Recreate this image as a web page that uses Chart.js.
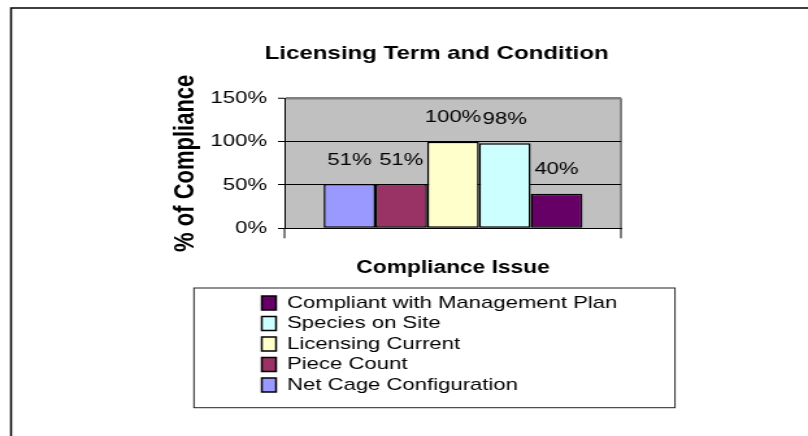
<!DOCTYPE html>
<html>
<head>
<meta charset="utf-8">
<script src="https://cdn.jsdelivr.net/npm/chart.js@4.4.1/dist/chart.umd.min.js"></script>
<style>
  html, body { margin: 0; padding: 0; background: #fff; }
  #chart { display: block; }
</style>
</head>
<body>
<!-- the source picture is stretched sideways, so draw narrow and widen with css -->
<canvas id="chart" width="622" height="436" style="width:808px;height:436px"></canvas>
<script>
const categories = [''];
const seriesNames = [
    'Net Cage Configuration',
    'Piece Count',
    'Licensing Current',
    'Species on Site',
    'Compliant with Management Plan'
];
const seriesValues = [51, 51, 100, 98, 40];
const yTickValues = [0, 50, 100, 150];

const seriesColors = ['#9999ff', '#993366', '#ffffcc', '#ccffff', '#660066'];

Chart.defaults.font.family = '"Liberation Sans", Arial, sans-serif';
Chart.defaults.color = '#000';

// grey plot area + the frame (only top and left edges show in the picture)
const plotBackground = {
    id: 'plotBackground',
    beforeDraw(chart) {
        const { ctx, chartArea: a } = chart;
        ctx.save();
        ctx.fillStyle = '#c0c0c0';
        ctx.fillRect(a.left, a.top, a.right - a.left, a.bottom - a.top);
        ctx.strokeStyle = '#000';
        ctx.lineWidth = 1.5;
        ctx.beginPath();
        ctx.moveTo(8.5, chart.height);
        ctx.lineTo(8.5, 8);
        ctx.lineTo(chart.width, 8);
        ctx.stroke();
        ctx.restore();
    }
};

// value labels above each bar
const valueLabels = {
    id: 'valueLabels',
    afterDatasetsDraw(chart) {
        const ctx = chart.ctx;
        ctx.save();
        ctx.font = '17px "Liberation Sans", Arial, sans-serif';
        ctx.fillStyle = '#000';
        ctx.textAlign = 'center';
        ctx.textBaseline = 'alphabetic';
        chart.data.datasets.forEach((ds, i) => {
            chart.getDatasetMeta(i).data.forEach((bar, j) => {
                ctx.fillText(ds.data[j] + '%', bar.x, bar.y - 19.5);
            });
        });
        ctx.restore();
    }
};

// bottom legend, but one entry per line in a framed box
const legendColumn = {
    id: 'legendColumn',
    beforeInit(chart) {
        const legend = chart.legend;
        const fit = legend.fit;
        legend.fit = function() {
            const full = this.maxWidth;
            this.maxWidth = 1;
            fit.call(this);
            this.maxWidth = full;
        };
        const draw = legend._draw;
        legend._draw = function() {
            const left = this.left, right = this.right;
            this.left = 198;
            this.right = 260;
            draw.call(this);
            this.left = left;
            this.right = right;
        };
    },
    afterDraw(chart) {
        const ctx = chart.ctx;
        const top = chart.legend.top;
        ctx.save();
        ctx.strokeStyle = '#222';
        ctx.lineWidth = 1;
        ctx.strokeRect(149.3, top - 3, 370.3, 119.7);
        ctx.restore();
    }
};

new Chart(document.getElementById('chart'), {
    type: 'bar',
    data: {
        labels: categories,
        datasets: seriesNames.map((name, i) => ({
            label: name,
            data: [seriesValues[i]],
            backgroundColor: seriesColors[i],
            borderColor: '#000',
            borderWidth: 1.5,
            borderSkipped: false,
            categoryPercentage: 0.77,
            barPercentage: 1,
            yAxisID: 'y'
        }))
    },
    options: {
        responsive: false,
        devicePixelRatio: 1,
        animation: false,
        layout: { padding: { top: 10, left: 50.4, right: 0, bottom: 32.5 } },
        plugins: {
            title: {
                display: true,
                text: 'Licensing Term and Condition',
                color: '#000',
                font: { size: 18.5, weight: 'bold' },
                padding: { top: 33, bottom: 33.1 }
            },
            legend: {
                position: 'bottom',
                align: 'start',
                reverse: true,
                labels: {
                    boxWidth: 11,
                    boxHeight: 14,
                    padding: 3.5,
                    color: '#000',
                    font: { size: 17 },
                    generateLabels: chart => chart.data.datasets.map((ds, i) => ({
                        text: ds.label,
                        fillStyle: ds.backgroundColor,
                        strokeStyle: '#000',
                        lineWidth: 1.5,
                        hidden: false,
                        datasetIndex: i
                    }))
                }
            },
            tooltip: { enabled: false }
        },
        scales: {
            x: {
                offset: true,
                grid: {
                    offset: true,
                    drawOnChartArea: true,
                    drawTicks: true,
                    tickLength: 10,
                    color: c => c.index === 0 ? 'rgba(0,0,0,0)' : '#808080',
                    lineWidth: 2,
                    tickColor: '#000',
                    tickWidth: 1
                },
                border: { display: true, color: '#000', width: 1 },
                ticks: { display: false },
                title: {
                    display: true,
                    text: 'Compliance Issue',
                    color: '#000',
                    font: { size: 17.5, weight: 'bold' },
                    padding: { top: 19.2, bottom: 12.5 }
                }
            },
            y: {
                min: yTickValues[0],
                max: yTickValues[yTickValues.length - 1],
                ticks: {
                    stepSize: yTickValues[1] - yTickValues[0],
                    padding: 8.5,
                    color: '#000',
                    font: { size: 17 },
                    callback: v => v + '%'
                },
                grid: {
                    color: c => c.tick && c.tick.value === 150 ? '#808080' : '#000',
                    lineWidth: c => c.tick && c.tick.value === 150 ? 2.5 : 1,
                    tickLength: 5.4,
                    tickColor: '#000',
                    tickWidth: 1
                },
                border: { display: true, color: '#000', width: 1 },
                title: {
                    display: true,
                    text: '% of Compliance',
                    color: '#000',
                    font: { size: 22, weight: 'bold' },
                    padding: { top: 79.4, bottom: 0 }
                },
                afterFit: s => { s.width = 169; }
            },
            // empty right-hand axis, only there to hold the plot away from the right edge
            y2: {
                position: 'right',
                display: true,
                grid: { display: false, drawTicks: false },
                border: { display: false },
                ticks: { display: false },
                afterFit: s => { s.width = 143.9; }
            }
        }
    },
    plugins: [plotBackground, valueLabels, legendColumn]
});
</script>
</body>
</html>
